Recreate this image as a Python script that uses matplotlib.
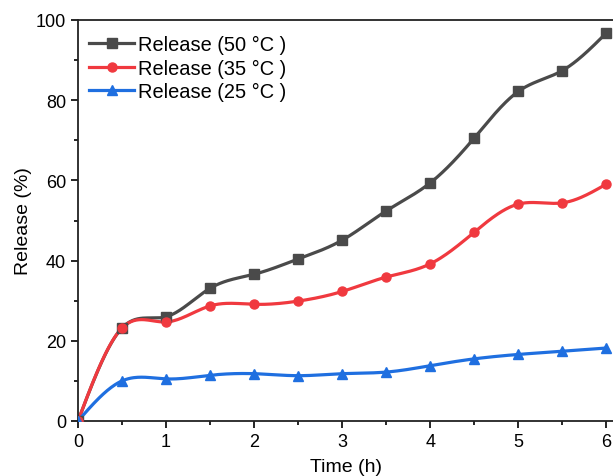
import numpy as np
import matplotlib
matplotlib.use("Agg")
import matplotlib.pyplot as plt
from matplotlib.ticker import MultipleLocator

plt.rcParams['font.family'] = ['Liberation Sans', 'DejaVu Sans']

time_h = [0, 0.5, 1, 1.5, 2, 2.5, 3, 3.5, 4, 4.5, 5, 5.5, 6]
rel_50 = [0, 23.2, 26.0, 33.1, 36.6, 40.4, 45.1, 52.4, 59.4, 70.6, 82.2, 87.4, 96.8]
rel_35 = [0, 23.2, 24.7, 28.7, 29.1, 29.9, 32.3, 35.9, 39.2, 47.1, 54.1, 54.4, 59.1]
rel_25 = [0, 10.0, 10.5, 11.4, 11.8, 11.3, 11.8, 12.2, 13.8, 15.5, 16.6, 17.4, 18.2]


def natural_spline(x, y, n=400):
    # natural cubic spline through the points, for a smooth connecting line
    x = np.asarray(x, float)
    y = np.asarray(y, float)
    k = len(x)
    h = np.diff(x)
    A = np.zeros((k, k))
    b = np.zeros(k)
    A[0, 0] = A[-1, -1] = 1
    for i in range(1, k - 1):
        A[i, i - 1] = h[i - 1]
        A[i, i] = 2 * (h[i - 1] + h[i])
        A[i, i + 1] = h[i]
        b[i] = 3 * ((y[i + 1] - y[i]) / h[i] - (y[i] - y[i - 1]) / h[i - 1])
    c = np.linalg.solve(A, b)
    xs = np.linspace(x[0], x[-1], n)
    idx = np.clip(np.searchsorted(x, xs) - 1, 0, k - 2)
    dx = xs - x[idx]
    bb = (y[idx + 1] - y[idx]) / h[idx] - h[idx] * (2 * c[idx] + c[idx + 1]) / 3
    dd = (c[idx + 1] - c[idx]) / (3 * h[idx])
    ys = y[idx] + bb * dx + c[idx] * dx ** 2 + dd * dx ** 3
    return xs, ys


fig = plt.figure(figsize=(6.13, 4.77), dpi=100)
ax = fig.add_axes([78 / 613, 55 / 477, 535.5 / 613, 401 / 477])

series = [
    (rel_50, '#4a4a4a', 's', 'Release (50 °C )'),
    (rel_35, '#f0393f', 'o', 'Release (35 °C )'),
    (rel_25, '#1f6fe0', '^', 'Release (25 °C )'),
]
for vals, col, mk, lab in series:
    xs, ys = natural_spline(time_h, vals)
    ax.plot(xs, ys, color=col, lw=2.3, zorder=2)
    ax.plot(time_h, vals, ls='none', marker=mk, color=col, ms=6.5, zorder=3)
    ax.plot([], [], color=col, lw=2.3, marker=mk, ms=6.5, label=lab)

ax.set_xlim(0, 6.08)
ax.set_ylim(0, 100)
ax.xaxis.set_major_locator(MultipleLocator(1))
ax.xaxis.set_minor_locator(MultipleLocator(0.5))
ax.yaxis.set_major_locator(MultipleLocator(20))
ax.yaxis.set_minor_locator(MultipleLocator(10))
ax.tick_params(which='major', direction='out', length=5, width=1.2, labelsize=13)
ax.tick_params(which='minor', direction='out', length=3, width=1.2)
for s in ax.spines.values():
    s.set_linewidth(1.3)
    s.set_color('#222222')
ax.spines['right'].set_visible(False)

ax.set_xlabel('Time (h)', fontsize=14, labelpad=6)
ax.set_ylabel('Release (%)', fontsize=14, labelpad=3)

ax.legend(loc='upper left', frameon=False, fontsize=14.4, handlelength=2.25,
          handletextpad=0.2, labelspacing=0.22, borderaxespad=0.15,
          borderpad=0.4, bbox_to_anchor=(0.0, 0.99))

fig.savefig('out.png', dpi=100)
